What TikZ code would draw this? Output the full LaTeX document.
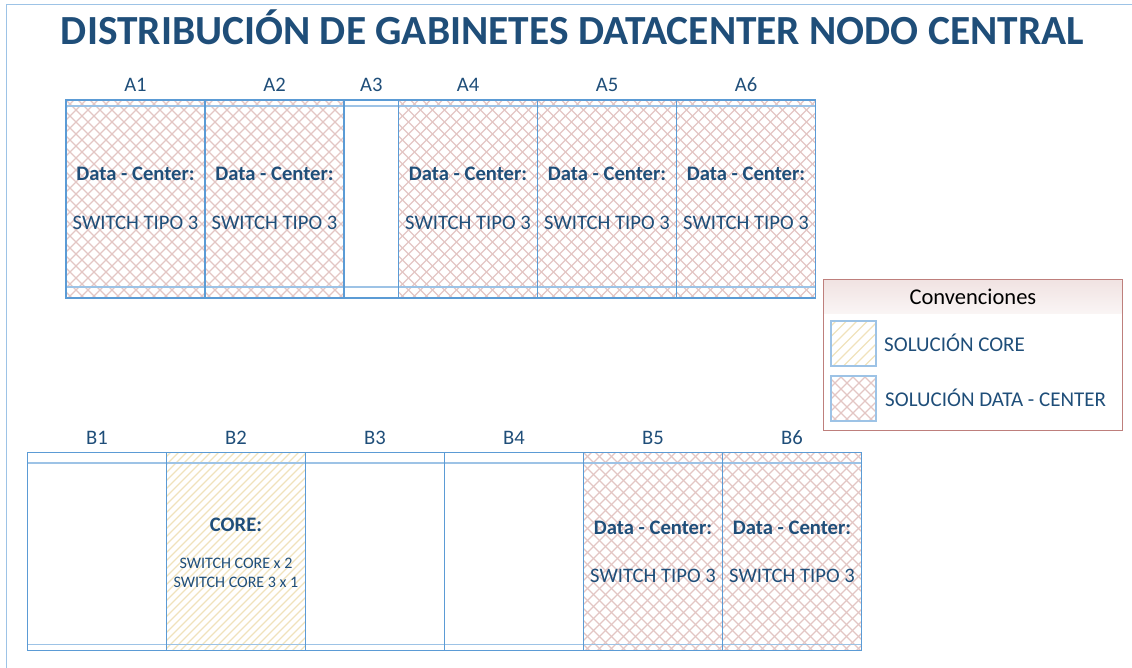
\documentclass[tikz,border=0pt]{standalone}
\usepackage{fontspec}
\setmainfont{Carlito}
\definecolor{txtblue}{HTML}{1F4E79}
\definecolor{lineblue}{HTML}{5B9BD5}
\definecolor{pale}{HTML}{9DC3E6}
\definecolor{hatchred}{HTML}{E3C6C4}
\definecolor{hatchyel}{HTML}{F0E2BC}
\definecolor{legred}{HTML}{BE7F7C}
\tikzset{
 x=1pt,y=-1pt,
 cabinet/.style={minimum width=139pt,inner sep=0pt,anchor=north west,outer sep=0pt},
 frameline/.style={draw=lineblue,line width=1.3pt},
 lab/.style={text=txtblue,font=\fontsize{20.6}{22}\selectfont,inner sep=0pt},
 head/.style={text=txtblue,font=\fontsize{20.6}{22}\selectfont\bfseries,inner sep=0pt},
 band/.style={draw=pale,line width=1.4pt},
 keybox/.style={minimum size=45pt,anchor=north west,inner sep=0pt,outer sep=0pt},
}
% node, horizontal period, colour
\newcommand{\upward}[3]{\begin{scope}
  \clip (#1.north west) rectangle (#1.south east);
  \foreach \i in {0,...,90}{\draw[#3,line width=1.1pt,shift={(#1.south west)}] (\i*#2-250,0) -- ++(350,-350);}
\end{scope}}
\newcommand{\downward}[3]{\begin{scope}
  \clip (#1.north west) rectangle (#1.south east);
  \foreach \i in {0,...,90}{\draw[#3,line width=1.1pt,shift={(#1.south west)}] (\i*#2-150,0) -- ++(-350,-350);}
\end{scope}}
\newcommand{\hatchDC}[1]{\upward{#1}{12}{hatchred}\downward{#1}{12}{hatchred}}
\newcommand{\hatchCR}[1]{\upward{#1}{8}{hatchyel}}
\newcommand{\hatchKey}[1]{\upward{#1}{10.5}{hatchyel}}
\newcommand{\hatchNone}[1]{}
\begin{document}
\begin{tikzpicture}
\useasboundingbox (0,0) rectangle (1132,668);
\draw[pale,line width=1.4pt] (6.5,668) -- (6.5,4.5) -- (1132,4.5);
\node[text=txtblue,font=\fontsize{41.4}{44}\selectfont\bfseries,inner sep=0pt] (title) at (572.5,27.5) {DISTRIBUCIÓN DE GABINETES DATACENTER NODO CENTRAL};
% row A
\foreach \n/\x/\w/\k in {A1/66/139/\hatchDC,A2/205/139/\hatchDC,A3/344/54.5/\hatchNone,A4/398.5/139/\hatchDC,A5/537.5/139/\hatchDC,A6/676.5/139/\hatchDC}{
  \node[cabinet,minimum width=\w pt,minimum height=198pt] (\n) at (\x,100) {};
  \k{\n}
  \node[lab,above=8pt] (\n t) at (\n.north) {\n};
  \draw[band] (\n.north west)++(0,6) -- ++(\w,0);
  \draw[band] (\n.south west)++(0,-11) -- ++(\w,0);
  \draw[frameline] (\n.north west) rectangle (\n.south east);
}
\foreach \n in {A1,A2,A4,A5,A6}{
  \node[head] (\n h) at ([yshift=25pt]\n.center) {Data - Center:};
  \node[lab] (\n s) at ([yshift=-24pt]\n.center) {SWITCH TIPO 3};
}
% row B
\foreach \n/\x/\k in {B1/27.5/\hatchNone,B2/166.5/\hatchCR,B3/305.5/\hatchNone,B4/444.5/\hatchNone,B5/583.5/\hatchDC,B6/722.5/\hatchDC}{
  \node[cabinet,minimum height=198pt] (\n) at (\x,452.5) {};
  \k{\n}
  \node[lab,above=8pt] (\n t) at (\n.north) {\n};
  \draw[band] (\n.north west)++(0,10.5) -- ++(139,0);
  \draw[band] (\n.south west)++(0,-6) -- ++(139,0);
  \draw[frameline] (\n.north west) rectangle (\n.south east);
}
\foreach \n in {B5,B6}{
  \node[head] (\n h) at ([yshift=24pt]\n.center) {Data - Center:};
  \node[lab] (\n s) at ([yshift=-24pt]\n.center) {SWITCH TIPO 3};
}
\node[head] (B2h) at (236,525) {CORE:};
\node[text=txtblue,font=\fontsize{16}{19}\selectfont,align=center,inner sep=0pt] (B2s) at (236,572.5) {SWITCH CORE x 2\\SWITCH CORE 3 x 1};
% legend
\node[top color=legred!22,bottom color=legred!8,minimum width=297.5pt,minimum height=33pt,anchor=north west,inner sep=0pt,text=black,font=\fontsize{22.5}{24}\selectfont] (legh) at (824,280) {Convenciones};
\node[draw=legred,line width=1.3pt,minimum width=299pt,minimum height=151pt,anchor=north west,inner sep=0pt] (leg) at (823,279) {};
\node[keybox] (k1) at (831,321) {};
\hatchKey{k1}
\draw[pale,line width=1.4pt] (k1.north west) rectangle (k1.south east);
\node[keybox] (k2) at (831,376) {};
\hatchDC{k2}
\draw[pale,line width=1.4pt] (k2.north west) rectangle (k2.south east);
\node[text=txtblue,font=\fontsize{21}{22}\selectfont,inner sep=0pt,anchor=west] (k1t) at (884,343) {SOLUCIÓN CORE};
\node[text=txtblue,font=\fontsize{21}{22}\selectfont,inner sep=0pt,anchor=west] (k2t) at (885,398) {SOLUCIÓN DATA - CENTER};
\end{tikzpicture}
\end{document}
